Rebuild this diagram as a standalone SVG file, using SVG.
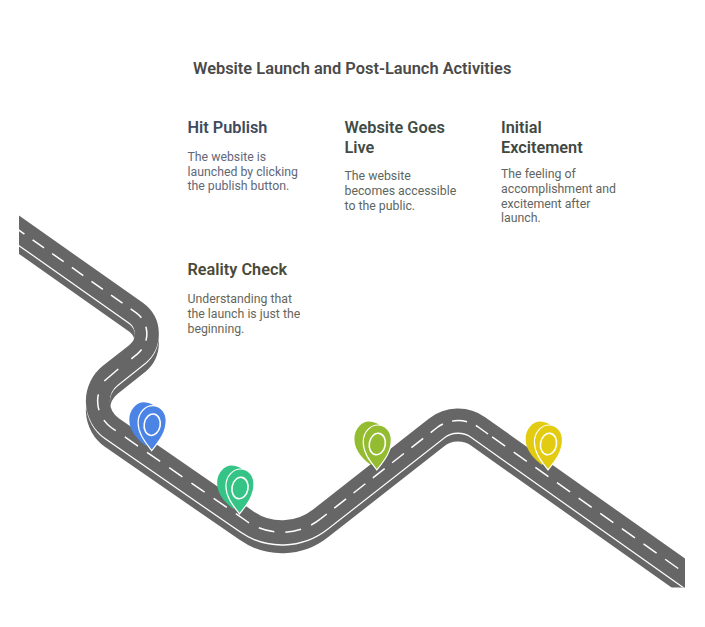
<svg xmlns="http://www.w3.org/2000/svg" width="705" height="627" viewBox="0 0 705 627">
<style>
text{font-family:Roboto,"Liberation Sans",sans-serif}
.title{font-size:16.4px;font-weight:600;fill:#4a4a4a}
.h{font-size:16.3px;font-weight:600}
.b{font-size:12.3px}
.road{fill:none;stroke-width:24}
.dash{fill:none;stroke:#fff;stroke-width:1.5}
.pin-back,.pin-front{fill:currentColor}
.pin-front{stroke:#fff;stroke-width:1.2}
.ring{fill:none;stroke:#fff;stroke-width:1.6}
</style>
<defs>
<clipPath id="cut"><rect x="19" y="0" width="666" height="587.5"/></clipPath>
<path id="route" d="M-5,213.3 L136.3,312.9 A26,26 0 0 1 137.5,353.8 L110,375.5 A33,33 0 0 0 111.8,428 L246.4,521 A62,62 0 0 0 320.5,518.9 L436.5,428 A35,35 0 0 1 478.2,427 L710,591"/>
<g id="pin">
<path class="pin-back" d="M-6,-5 C-12,-10 -22.4,-18 -22.4,-31 C-22.4,-41 -15,-48.400 -8,-48.400 C-2,-48.400 6,-45 6,-38 L0,-15Z"/>
<path class="pin-front" d="M0,0 C-5,-7 -13.6,-16 -13.6,-28 C-13.6,-38.500 -6,-45 1,-45 C8.500,-45 14.500,-39 14.500,-30 C14.500,-17 6,-8 0,0Z"/>
<ellipse class="ring" cx="0.500" cy="-26" rx="8" ry="10.800" transform="rotate(10 0.500 -26)"/>
</g>
</defs>
<g id="connectors" clip-path="url(#cut)">
<use href="#route" class="road" stroke="#666" y="9"/>
<use href="#route" class="road" stroke="#fff" y="1.500"/>
<use href="#route" class="road" stroke="#666"/>
<path class="dash" stroke-dasharray="14 10" stroke-dashoffset="2" d="M-5,213.3 L136.3,312.9 A26,26 0 0 1 137.5,353.8 L131.3,358.8"/>
<path class="dash" d="M118.300,369 L104.300,381"/>
<path class="dash" stroke-dasharray="16 11" d="M98.3,394.4 A33,33 0 0 0 111.8,428 L246.4,521 A62,62 0 0 0 320.5,518.9"/>
<path class="dash" stroke-dasharray="15 9.500" stroke-dashoffset="7" d="M320.5,518.9 L436.5,428 A35,35 0 0 1 478.2,427 L488,434"/>
<path class="dash" stroke-dasharray="16 10.500" d="M492.1,436.8 L710,591"/>
</g>
<text id="title" class="title" x="193" y="74">Website Launch and Post-Launch Activities</text>
<g id="node-hit-publish">
<use href="#pin" x="151.700" y="450.700" color="#4B84E5"/>
<text class="h" x="187.500" y="133" fill="#3F4A5F">Hit Publish</text>
<g class="b" fill="#5F6779"><text x="187.500" y="161">The website is</text><text x="187.500" y="175.500">launched by clicking</text><text x="187.500" y="190.300">the publish button.</text></g>
</g>
<g id="node-website-goes-live">
<use href="#pin" x="239.500" y="514" color="#36C486"/>
<text class="h" x="344.500" y="133" fill="#3F4C45">Website Goes</text><text class="h" x="344.500" y="152.700" fill="#3F4C45">Live</text>
<g class="b" fill="#5C6660"><text x="344.500" y="180.200">The website</text><text x="344.500" y="195">becomes accessible</text><text x="344.500" y="210">to the public.</text></g>
</g>
<g id="node-initial-excitement">
<use href="#pin" x="376.800" y="470" color="#93BC31"/>
<text class="h" x="501" y="133" fill="#41483F">Initial</text><text class="h" x="501" y="152.700" fill="#41483F">Excitement</text>
<g class="b" fill="#5F6560"><text x="501" y="178.400">The feeling of</text><text x="501" y="192.800">accomplishment and</text><text x="501" y="207.500">excitement after</text><text x="501" y="222.300">launch.</text></g>
</g>
<g id="node-reality-check">
<use href="#pin" x="548" y="470" color="#E2CB10"/>
<text class="h" x="187.500" y="275" fill="#4A4A38">Reality Check</text>
<g class="b" fill="#66665A"><text x="187.500" y="303">Understanding that</text><text x="187.500" y="318">the launch is just the</text><text x="187.500" y="332.500">beginning.</text></g>
</g>
</svg>
